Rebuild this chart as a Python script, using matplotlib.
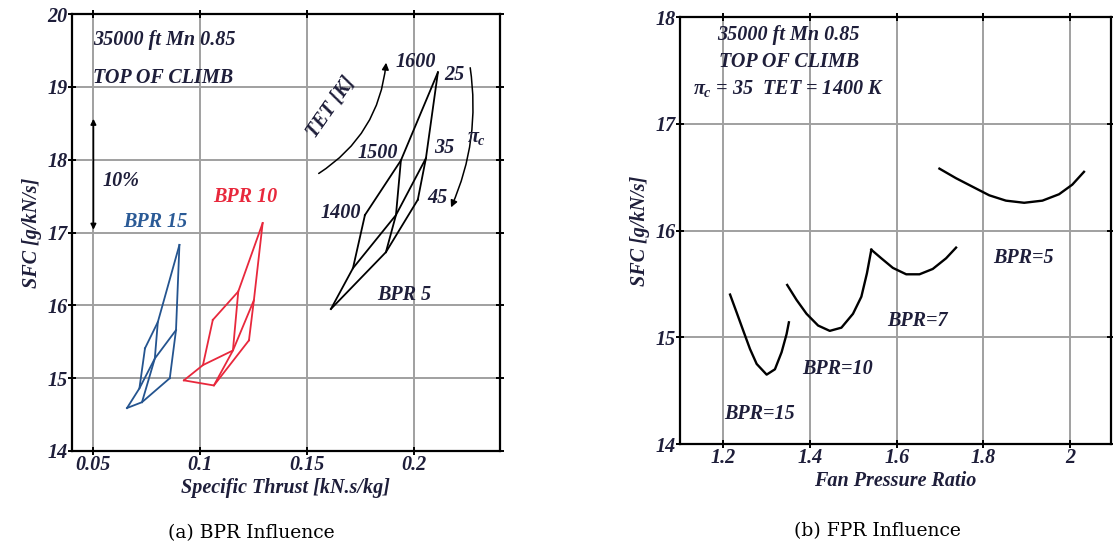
import numpy as np
import matplotlib
matplotlib.use('Agg')
import matplotlib.pyplot as plt
from matplotlib.patches import FancyArrowPatch

plt.rcParams['font.family'] = 'Liberation Serif'
plt.rcParams['mathtext.fontset'] = 'custom'
plt.rcParams['mathtext.it'] = 'Liberation Serif:italic:bold'
plt.rcParams['mathtext.rm'] = 'Liberation Serif:bold'

# carpet data: rows = TET [1400, 1500, 1600] K, cols = pi_c [25, 35, 45]
tet_vals = [1400, 1500, 1600]
pic_vals = [25, 35, 45]

st_bpr5 = [[0.1769, 0.1713, 0.1610],
           [0.1937, 0.1914, 0.1867],
           [0.2110, 0.2054, 0.2016]]
sfc_bpr5 = [[17.24, 16.51, 15.95],
            [17.99, 17.24, 16.73],
            [19.20, 18.02, 17.45]]

st_bpr10 = [[0.1058, 0.1012, 0.0923],
            [0.1177, 0.1152, 0.1063],
            [0.1291, 0.1250, 0.1227]]
sfc_bpr10 = [[15.80, 15.18, 14.97],
             [16.19, 15.38, 14.90],
             [17.13, 16.07, 15.52]]

st_bpr15 = [[0.0741, 0.0715, 0.0657],
            [0.0801, 0.0787, 0.0727],
            [0.0902, 0.0886, 0.0857]]
sfc_bpr15 = [[15.41, 14.86, 14.59],
             [15.77, 15.27, 14.67],
             [16.83, 15.66, 15.00]]

# FPR sweep (pi_c = 35, TET = 1400 K)
fpr_15 = [1.2154, 1.2308, 1.246, 1.2614, 1.2768, 1.2998, 1.3189, 1.3343, 1.3458, 1.3511]
sfc_15 = [15.40, 15.23, 15.06, 14.89, 14.75, 14.65, 14.70, 14.86, 15.03, 15.14]
fpr_10 = [1.3472, 1.3688, 1.3918, 1.4185, 1.4454, 1.4723, 1.499, 1.5183, 1.5312, 1.5413]
sfc_10 = [15.49, 15.35, 15.22, 15.11, 15.06, 15.09, 15.22, 15.38, 15.60, 15.82]
fpr_7 = [1.5413, 1.5643, 1.591, 1.6218, 1.6524, 1.683, 1.7138, 1.7368]
sfc_7 = [15.82, 15.74, 15.65, 15.59, 15.59, 15.64, 15.74, 15.84]
fpr_5 = [1.6984, 1.7368, 1.775, 1.8134, 1.8518, 1.8939, 1.936, 1.9744, 2.005, 2.0319]
sfc_5 = [16.58, 16.49, 16.41, 16.33, 16.28, 16.26, 16.28, 16.34, 16.43, 16.55]

txt = dict(fontweight='bold', fontstyle='italic', color='#1e1e3a')
fs = 14.5

fig = plt.figure(figsize=(11.13, 5.5), dpi=100)
ax1 = fig.add_axes([0.0647, 0.18, 0.3845, 0.7945])
ax2 = fig.add_axes([0.611, 0.1927, 0.3875, 0.7763])


def style(ax):
    ax.grid(True, color='#a0a0a0', lw=1.4)
    ax.set_axisbelow(True)
    for s in ax.spines.values():
        s.set_linewidth(1.6)
    ax.tick_params(direction='inout', length=6, width=1.4, top=True, right=True,
                   labelsize=fs, pad=0)
    for lab in ax.get_xticklabels() + ax.get_yticklabels():
        lab.set_fontweight('bold')
        lab.set_fontstyle('italic')
        lab.set_color('#1e1e3a')


# (a) BPR influence
for st, sfc, col in [(st_bpr5, sfc_bpr5, 'black'),
                     (st_bpr10, sfc_bpr10, '#e8283c'),
                     (st_bpr15, sfc_bpr15, '#24548f')]:
    st = np.array(st)
    sfc = np.array(sfc)
    for i in range(len(tet_vals)):
        ax1.plot(st[i, :], sfc[i, :], color=col, lw=1.3)
    for j in range(len(pic_vals)):
        ax1.plot(st[:, j], sfc[:, j], color=col, lw=1.3)

ax1.set_xlim(0.04, 0.24)
ax1.set_ylim(14, 20)
ax1.set_xticks([0.05, 0.1, 0.15, 0.2])
ax1.set_xticklabels(['0.05', '0.1', '0.15', '0.2'])
ax1.set_yticks([14, 15, 16, 17, 18, 19, 20])
style(ax1)
ax1.set_xlabel('Specific Thrust [kN.s/kg]', fontsize=fs, labelpad=2, **txt)
ax1.set_ylabel('SFC [g/kN/s]', fontsize=fs, labelpad=4, **txt)

ax1.text(0.05, 19.64, '35000 ft Mn 0.85', fontsize=fs, va='center', **txt)
ax1.text(0.05, 19.12, 'TOP OF CLIMB', fontsize=fs, va='center', **txt)
ax1.annotate('', xy=(0.05, 18.6), xytext=(0.05, 17.0),
             arrowprops=dict(arrowstyle='<|-|>', color='black', lw=1.2, mutation_scale=8))
ax1.text(0.0544, 17.71, '10%', fontsize=fs, va='center', **txt)
ax1.text(0.0787, 17.14, 'BPR 15', fontsize=fs, ha='center', va='center',
         fontweight='bold', fontstyle='italic', color='#2a5a96')
ax1.text(0.1208, 17.49, 'BPR 10', fontsize=fs, ha='center', va='center',
         fontweight='bold', fontstyle='italic', color='#e8283c')
ax1.text(0.1953, 16.14, 'BPR 5', fontsize=fs, ha='center', va='center', **txt)
for s, x, y in [('1600', 0.2007, 19.34), ('1500', 0.1827, 18.09), ('1400', 0.1657, 17.27),
                ('25', 0.2185, 19.16), ('35', 0.2142, 18.16), ('45', 0.2110, 17.47)]:
    ax1.text(x, y, s, fontsize=fs, ha='center', va='center', **txt)
ax1.text(0.1612, 18.72, 'TET [K]', fontsize=fs, ha='center', va='center', rotation=55, **txt)
ax1.add_patch(FancyArrowPatch((0.1542, 17.79), (0.1869, 19.37),
                              connectionstyle='arc3,rad=0.25', arrowstyle='-|>',
                              mutation_scale=10, color='black', lw=1.1))
ax1.add_patch(FancyArrowPatch((0.2259, 19.30), (0.2166, 17.31),
                              connectionstyle='arc3,rad=-0.15', arrowstyle='-|>',
                              mutation_scale=10, color='black', lw=1.1))
ax1.text(0.2292, 18.31, r'$\pi_c$', fontsize=fs, ha='center', va='center', color='#1e1e3a')

# (b) FPR influence
for x, y in [(fpr_15, sfc_15), (fpr_10, sfc_10), (fpr_7, sfc_7), (fpr_5, sfc_5)]:
    ax2.plot(x, y, color='black', lw=1.7)

ax2.set_xlim(1.1, 2.095)
ax2.set_ylim(14, 18)
ax2.set_xticks([1.2, 1.4, 1.6, 1.8, 2.0])
ax2.set_xticklabels(['1.2', '1.4', '1.6', '1.8', '2'])
ax2.set_yticks([14, 15, 16, 17, 18])
style(ax2)
ax2.set_xlabel('Fan Pressure Ratio', fontsize=fs, labelpad=2, **txt)
ax2.set_ylabel('SFC [g/kN/s]', fontsize=fs, labelpad=4, **txt)

ax2.text(1.351, 17.83, '35000 ft Mn 0.85', fontsize=fs, ha='center', va='center', **txt)
ax2.text(1.351, 17.58, 'TOP OF CLIMB', fontsize=fs, ha='center', va='center', **txt)
ax2.text(1.351, 17.33, r'$\pi_c$ = 35  TET = 1400 K', fontsize=fs, ha='center', va='center', **txt)
for s, x, y in [('BPR=15', 1.283, 14.28), ('BPR=10', 1.463, 14.70),
                ('BPR=7', 1.647, 15.15), ('BPR=5', 1.893, 15.74)]:
    ax2.text(x, y, s, fontsize=fs, ha='center', va='center', **txt)

fig.text(251 / 1113, 1 - 533 / 550, '(a) BPR Influence', fontsize=13.5, family='DejaVu Serif',
         ha='center', va='center')
fig.text(877 / 1113, 1 - 531 / 550, '(b) FPR Influence', fontsize=13.5, family='DejaVu Serif',
         ha='center', va='center')

fig.savefig('out.png', dpi=100)
